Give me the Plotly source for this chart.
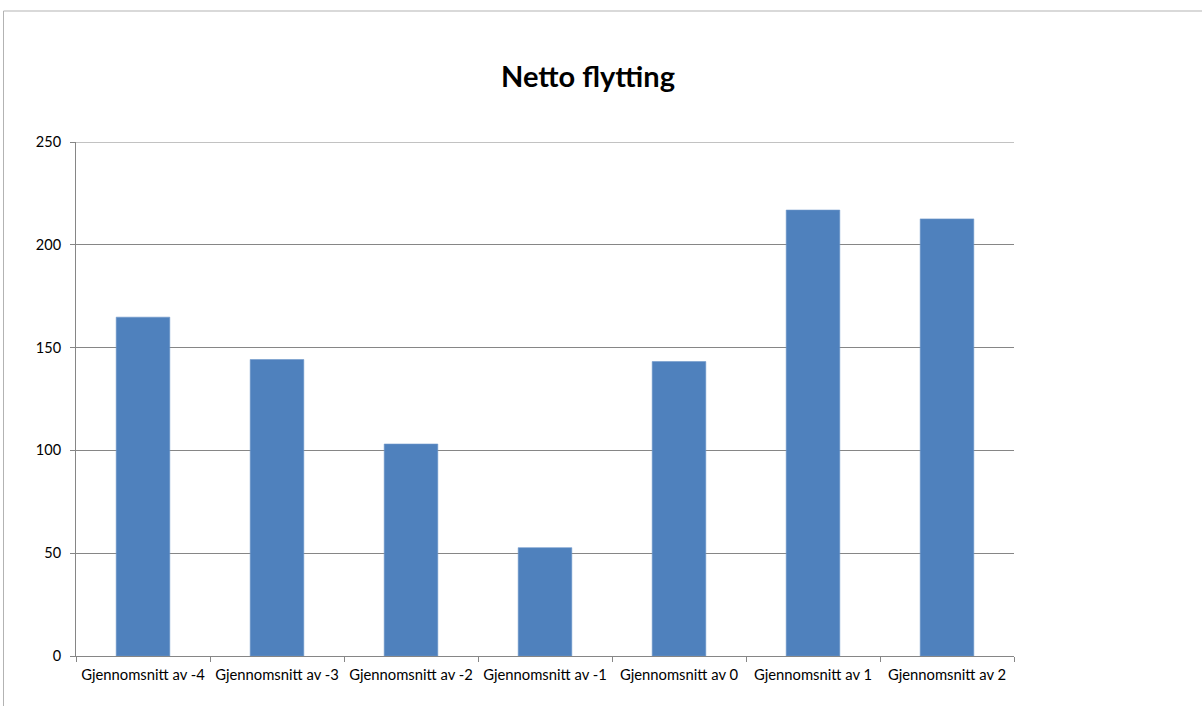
import plotly.graph_objects as go

categories = [
    "Gjennomsnitt av -4",
    "Gjennomsnitt av -3",
    "Gjennomsnitt av -2",
    "Gjennomsnitt av -1",
    "Gjennomsnitt av 0",
    "Gjennomsnitt av 1",
    "Gjennomsnitt av 2",
]
netto = [164.8, 144.2, 103.1, 52.7, 143.2, 216.9, 212.6]

y_ticks = [0, 50, 100, 150, 200, 250]

W, H = 1202, 706
L, R, T, B = 76, 188, 142, 50
plot_w = W - L - R
plot_h = H - T - B

fig = go.Figure(
    go.Bar(
        x=categories,
        y=netto,
        marker=dict(color="#4f81bd", line=dict(color="#6f97c9", width=0.6)),
        hoverinfo="x+y",
    )
)

axis_gray = "#868686"
font_family = "Lato, 'Open Sans', sans-serif"

fig.update_layout(
    width=W,
    height=H,
    margin=dict(l=L, r=R, t=T, b=B),
    paper_bgcolor="white",
    plot_bgcolor="white",
    bargap=0.6,
    showlegend=False,
    font=dict(family=font_family, color="#000000"),
    title=dict(
        text="<b>Netto flytting</b>",
        font=dict(family=font_family, size=29, color="#000000"),
        xref="container",
        x=588 / W,
        xanchor="center",
        yref="container",
        y=1 - 77 / H,
        yanchor="middle",
    ),
    xaxis=dict(
        showline=True,
        linecolor=axis_gray,
        linewidth=1,
        ticks="outside",
        tickson="boundaries",
        ticklen=5,
        tickcolor=axis_gray,
        showgrid=False,
        tickfont=dict(size=14.8, color="#000000"),
        ticklabelstandoff=5,
        fixedrange=True,
    ),
    yaxis=dict(
        range=[0, 250],
        tickvals=y_ticks,
        showline=True,
        linecolor=axis_gray,
        linewidth=1,
        ticks="outside",
        ticklen=5,
        tickcolor=axis_gray,
        showgrid=True,
        gridcolor=axis_gray,
        gridwidth=1,
        zeroline=False,
        tickfont=dict(size=14.5, color="#000000"),
        ticklabelstandoff=6,
        fixedrange=True,
    ),
)

# Top gridline at the end of the value range
fig.add_shape(type="line", xref="paper", yref="y",
              x0=0, x1=1, y0=y_ticks[-1], y1=y_ticks[-1],
              line=dict(color=axis_gray, width=1), layer="below")

# Chart-area frame: top and left edges
frame_x = (3.5 - L) / plot_w
frame_top = (H - B - 11) / plot_h
frame_bottom = -(B + 2) / plot_h
fig.add_shape(type="line", xref="paper", yref="paper",
              x0=frame_x, x1=(W + 2 - L) / plot_w, y0=frame_top, y1=frame_top,
              line=dict(color="#b3b3b3", width=1))
fig.add_shape(type="line", xref="paper", yref="paper",
              x0=frame_x, x1=frame_x, y0=frame_bottom, y1=frame_top,
              line=dict(color="#b3b3b3", width=1))

fig.write_html("out.html")
